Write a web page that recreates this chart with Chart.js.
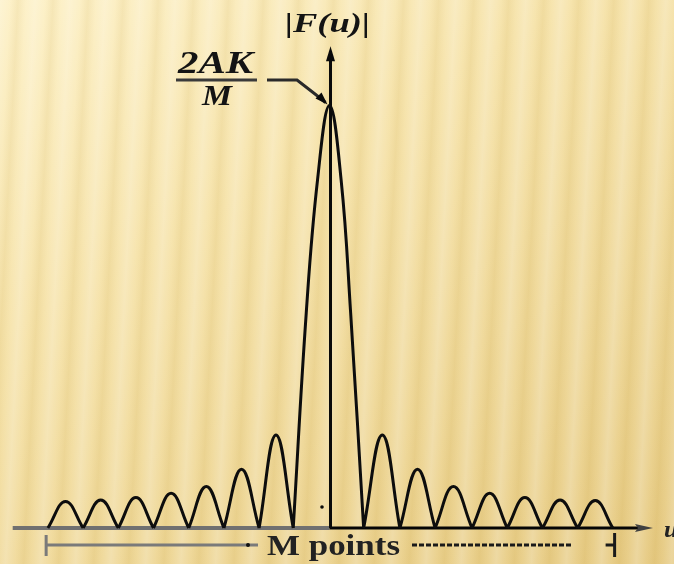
<!DOCTYPE html>
<html><head><meta charset="utf-8">
<script src="https://cdn.jsdelivr.net/npm/chart.js@4.4.1/dist/chart.umd.min.js"></script>
<style>
html,body{margin:0;padding:0;background:#f3dea2;}
#wrap{position:relative;width:674px;height:564px;overflow:hidden;
background:
 repeating-linear-gradient(93deg, rgba(255,255,255,0.22) 0px, rgba(255,255,255,0.04) 10px, rgba(180,140,40,0.09) 18px, rgba(255,255,255,0.04) 26px, rgba(255,255,255,0.22) 35px),
 linear-gradient(150deg, #fdf1c8 0%, #f6e3aa 35%, #efd898 65%, #e6ca82 100%);}
canvas{display:block;}
</style></head><body>
<div id="wrap"><canvas id="c" width="674" height="564"></canvas></div>
<script>
// ---- data (u in lobe-width units, |F(u)| normalised to main peak) ----
// main lobe, sampled along its outline
const mainLobeU   = [-1.03, -0.66, -0.34, 0.0, 0.33, 0.60, 0.97];
const mainLobeMag = [0.0,   0.510, 0.824, 1.0, 0.824, 0.510, 0.0];
// side lobes: zeros, peak positions and peak heights (left outer -> inner, right inner -> outer)
const sideZerosL = [-8.0, -7.0, -6.0, -5.0, -4.0, -3.0, -2.0, -1.03];
const sidePeakUL = [-7.5, -6.5, -5.5, -4.5, -3.5, -2.5, -1.52];
const sideMagL   = [0.063, 0.066, 0.072, 0.082, 0.098, 0.139, 0.220];
const sideZerosR = [0.97, 2.0, 3.0, 4.05, 5.05, 6.05, 7.05, 8.05];
const sidePeakUR = [1.5, 2.5, 3.52, 4.55, 5.55, 6.55, 7.55];
const sideMagR   = [0.220, 0.139, 0.098, 0.082, 0.072, 0.066, 0.065];

const axisLabelY = '|F(u)|';
const axisLabelX = 'u';
const peakLabelNum = '2AK';
const peakLabelDen = 'M';
const spanLabel = 'M points';
const spanStartU = -8.05, spanEndU = 8.1;

// build the curve: each lobe is its own spline piece (null breaks give cusps at the zeros)
const curve = [];
function addSide(zeros, peaksU, mags) {
  for (let i = 0; i < mags.length; i++) {
    curve.push({x: zeros[i], y: 0});
    curve.push({x: peaksU[i], y: mags[i]});
    curve.push({x: zeros[i+1], y: 0});
    curve.push({x: zeros[i+1], y: null});
  }
}
addSide(sideZerosL, sidePeakUL, sideMagL);
for (let i = 0; i < mainLobeU.length; i++) curve.push({x: mainLobeU[i], y: mainLobeMag[i]});
curve.push({x: mainLobeU[mainLobeU.length - 1], y: null});
addSide(sideZerosR, sidePeakUR, sideMagR);

function stretchText(ctx, str, x, y, font, targetW) {
  ctx.save();
  ctx.font = font;
  const w = ctx.measureText(str).width;
  ctx.translate(x, y);
  ctx.scale(targetW / w, 1);
  ctx.textAlign = 'left';
  ctx.textBaseline = 'alphabetic';
  ctx.fillText(str, 0, 0);
  ctx.restore();
}
function seg(ctx, x1, y1, x2, y2) { ctx.beginPath(); ctx.moveTo(x1, y1); ctx.lineTo(x2, y2); ctx.stroke(); }

const annot = {
  id: 'annot',
  beforeDatasetsDraw(chart) {
    const {ctx, scales: {x, y}} = chart;
    const x0 = x.getPixelForValue(0), y0 = y.getPixelForValue(0);
    ctx.save();
    // horizontal axis
    ctx.strokeStyle = '#707070'; ctx.lineWidth = 4;
    seg(ctx, x.getPixelForValue(-9.0), y0, x0, y0);
    ctx.strokeStyle = '#050505'; ctx.lineWidth = 3;
    seg(ctx, x0, y0, x.getPixelForValue(9.19) - 12, y0);
    const ax = x.getPixelForValue(9.19);
    ctx.fillStyle = '#404040';
    ctx.beginPath(); ctx.moveTo(ax, y0); ctx.lineTo(ax - 18, y0 - 4); ctx.lineTo(ax - 15, y0); ctx.lineTo(ax - 18, y0 + 4); ctx.closePath(); ctx.fill();
    // vertical axis
    const topY = y.getPixelForValue(1.14);
    ctx.strokeStyle = '#0a0a0a'; ctx.lineWidth = 3;
    seg(ctx, x0 + 1, y0, x0 + 1, topY + 8);
    ctx.fillStyle = '#0a0a0a';
    ctx.beginPath(); ctx.moveTo(x0 + 1, topY); ctx.lineTo(x0 - 3.5, topY + 15); ctx.lineTo(x0 + 5.5, topY + 15); ctx.closePath(); ctx.fill();
    // span bracket "M points"
    const by = y0 + 17;
    const lx = x.getPixelForValue(spanStartU), rx = x.getPixelForValue(spanEndU);
    ctx.strokeStyle = '#7a7a7a'; ctx.lineWidth = 3;
    seg(ctx, lx, by - 10, lx, by + 11);
    seg(ctx, lx, by, 258, by);
    ctx.fillStyle = '#111'; ctx.beginPath(); ctx.arc(248, by, 2, 0, Math.PI * 2); ctx.fill();
    ctx.strokeStyle = '#1a1a1a'; ctx.lineWidth = 3; ctx.setLineDash([5, 2]);
    seg(ctx, 412, by, 573, by);
    ctx.setLineDash([]);
    seg(ctx, rx - 9, by, rx, by);
    seg(ctx, rx, by - 12, rx, by + 12);
    ctx.restore();
  },
  afterDatasetsDraw(chart) {
    const {ctx, scales: {x, y}} = chart;
    const px = x.getPixelForValue(0), py = y.getPixelForValue(1.0);
    const y0 = y.getPixelForValue(0);
    ctx.save();
    ctx.fillStyle = '#141414';
    // y-axis label
    stretchText(ctx, axisLabelY, 285, 32, 'italic bold 28px "Liberation Serif"', 85);
    // peak label fraction
    stretchText(ctx, peakLabelNum, 178, 73, 'italic bold 31px "Liberation Serif"', 75);
    ctx.strokeStyle = '#3a3a3a'; ctx.lineWidth = 3;
    seg(ctx, 176, 80, 257, 80);
    stretchText(ctx, peakLabelDen, 202, 105, 'italic bold 29px "Liberation Serif"', 30);
    // leader line to the peak
    ctx.strokeStyle = '#2a2a2a'; ctx.lineWidth = 3;
    ctx.beginPath(); ctx.moveTo(267, 80); ctx.lineTo(297, 80); ctx.lineTo(315, 94); ctx.lineTo(px - 4, py - 3); ctx.stroke();
    ctx.fillStyle = '#0a0a0a';
    ctx.beginPath(); ctx.moveTo(px - 2, py - 1); ctx.lineTo(px - 14, py - 7); ctx.lineTo(px - 8, py - 13); ctx.closePath(); ctx.fill();
    // small dot near the axis
    ctx.beginPath(); ctx.arc(322, y0 - 21, 1.8, 0, Math.PI * 2); ctx.fill();
    // x-axis label and span label
    ctx.fillStyle = '#222';
    stretchText(ctx, axisLabelX, 664, y0 + 9, 'italic bold 24px "Liberation Serif"', 14);
    stretchText(ctx, spanLabel, 267, y0 + 27, 'bold 29px "Liberation Serif"', 133);
    ctx.restore();
  }
};

new Chart(document.getElementById('c'), {
  type: 'line',
  data: { datasets: [{
    data: curve,
    borderColor: '#0d0d0d',
    borderWidth: 3,
    tension: 0.42,
    pointRadius: 0,
    fill: false,
    spanGaps: false
  }]},
  options: {
    responsive: false,
    animation: false,
    events: [],
    layout: { padding: 0 },
    plugins: { legend: { display: false }, tooltip: { enabled: false } },
    scales: {
      x: { type: 'linear', min: -9.361, max: 9.787, display: false },
      y: { type: 'linear', min: -0.0852, max: 1.2497, display: false }
    }
  },
  plugins: [annot]
});
</script>
</body></html>
